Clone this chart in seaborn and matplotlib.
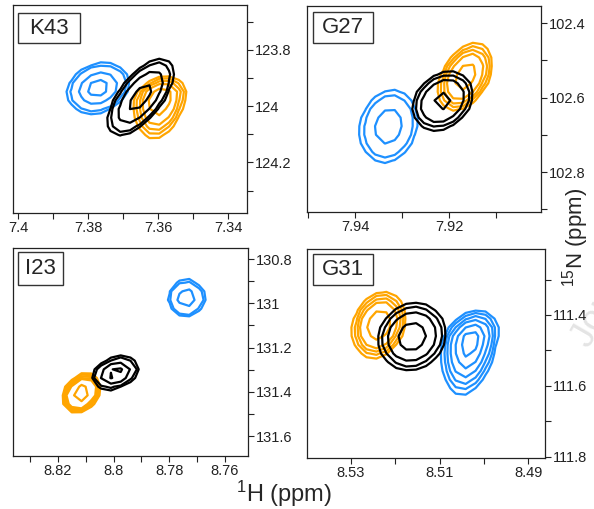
import numpy as np
import matplotlib
matplotlib.use("Agg")
import matplotlib.pyplot as plt
from matplotlib.patches import Rectangle
import seaborn as sns

sns.set_style("ticks")
plt.rcParams["font.family"] = ["Liberation Sans", "DejaVu Sans"]
plt.rcParams["mathtext.fontset"] = "custom"
plt.rcParams["mathtext.rm"] = "Liberation Sans"
plt.rcParams["mathtext.default"] = "regular"

# ---------------- data ----------------
PANEL_NAMES = ["K43", "G27", "I23", "G31"]

XLIMS = [(7.4014, 7.3346), (7.9502, 7.9005), (8.8362, 8.7517), (8.5399, 8.4862)]
YLIMS = [(124.38, 123.64), (102.907, 102.354), (131.69, 130.75), (111.803, 111.214)]

XTICKS = [[7.40, 7.39, 7.38, 7.37, 7.36, 7.35, 7.34],
          [7.95, 7.94, 7.93, 7.92, 7.91],
          [8.83, 8.82, 8.81, 8.80, 8.79, 8.78, 8.77, 8.76],
          [8.53, 8.52, 8.51, 8.50, 8.49]]
XTICKLABELS = [["7.4", "", "7.38", "", "7.36", "", "7.34"],
               ["", "7.94", "", "7.92", ""],
               ["", "8.82", "", "8.8", "", "8.78", "", "8.76"],
               ["8.53", "", "8.51", "", "8.49"]]
YTICKS = [[123.7, 123.8, 123.9, 124.0, 124.1, 124.2, 124.3],
          [102.4, 102.5, 102.6, 102.7, 102.8, 102.9],
          [130.8, 130.9, 131.0, 131.1, 131.2, 131.3, 131.4, 131.5, 131.6],
          [111.3, 111.4, 111.5, 111.6, 111.7, 111.8]]
YTICKLABELS = [["", "123.8", "", "124", "", "124.2", ""],
               ["102.4", "", "102.6", "", "102.8", ""],
               ["130.8", "", "131", "", "131.2", "", "131.4", "", "131.6"],
               ["", "111.4", "", "111.6", "", "111.8"]]

# spectra order within each panel: orange, blue, black
SPECTRUM_COLORS = ["#FFA500", "#1E90FF", "#000000"]

PEAK_H = [[7.3594, 7.3771, 7.3650],
          [7.9166, 7.9329, 7.9214],
          [8.8116, 8.7739, 8.7994],
          [8.5237, 8.5031, 8.5162]]
PEAK_N = [[123.968, 123.936, 123.968],
          [102.544, 102.677, 102.609],
          [131.407, 130.976, 131.315],
          [111.428, 111.470, 111.461]]
HALF_H = [[0.0072, 0.0087, 0.0093],
          [0.0056, 0.0060, 0.0063],
          [0.0066, 0.0063, 0.0081],
          [0.0059, 0.0063, 0.0075]]
HALF_N_UP = [[0.071, 0.089, 0.136],
             [0.090, 0.097, 0.078],
             [0.088, 0.081, 0.072],
             [0.093, 0.082, 0.094]]
HALF_N_DOWN = [[0.146, 0.089, 0.136],
               [0.090, 0.097, 0.078],
               [0.088, 0.081, 0.072],
               [0.093, 0.155, 0.094]]
TILT = [[0.25, 0.2, 0.65],
        [0.4, 0.15, 0.25],
        [0.3, 0.0, 0.3],
        [0.2, 0.3, 0.1]]
CONTOUR_RADII = [
    [[1.0, 0.9, 0.8, 0.68, 0.45], [1.0, 0.9, 0.62, 0.35], [1.0, 0.9, 0.68, 0.35]],
    [[1.0, 0.9, 0.8, 0.68, 0.4], [1.0, 0.85, 0.48], [1.0, 0.88, 0.72, 0.3]],
    [[1.0, 0.94, 0.88, 0.82, 0.76, 0.45], [1.0, 0.9, 0.5, 0.1], [1.0, 0.9, 0.65, 0.35]],
    [[1.0, 0.9, 0.8, 0.7, 0.45], [1.0, 0.9, 0.8, 0.68, 0.52, 0.32], [1.0, 0.88, 0.72, 0.42]],
]

# ---------------- layout (pixels) ----------------
W, H = 594, 509
AX_BOX = [(13, 5, 247, 213), (307, 6, 541, 212), (13, 248, 248, 456), (307, 249, 545, 458)]
LABEL_BOX = [(18, 13, 62, 30), (313, 12, 60, 31), (18, 252, 45, 33), (313, 254, 60, 31)]
R_OUT = 2.0
GRID_N = 25


def peak_surface(X, Y, x0, y0, hx, hup, hdn, rho):
    sx = hx / R_OUT
    sy = np.where(Y < y0, hup, hdn) / R_OUT
    u = (X - x0) / sx
    v = (Y - y0) / sy
    q = (u * u - 2 * rho * u * v + v * v) / (1 - rho * rho)
    return np.exp(-0.5 * q)


fig = plt.figure(figsize=(W / 100, H / 100), dpi=100)

for p in range(4):
    l, t, r, b = AX_BOX[p]
    ax = fig.add_axes([l / W, 1 - b / H, (r - l) / W, (b - t) / H])
    xs = np.linspace(min(XLIMS[p]), max(XLIMS[p]), GRID_N)
    ys = np.linspace(min(YLIMS[p]), max(YLIMS[p]), GRID_N)
    X, Y = np.meshgrid(xs, ys)
    for s in range(3):
        Z = peak_surface(X, Y, PEAK_H[p][s], PEAK_N[p][s], HALF_H[p][s],
                         HALF_N_UP[p][s], HALF_N_DOWN[p][s], TILT[p][s])
        levels = sorted(np.exp(-0.5 * (R_OUT * np.array(CONTOUR_RADII[p][s])) ** 2))
        ax.contour(X, Y, Z, levels=levels, colors=SPECTRUM_COLORS[s],
                   linewidths=1.6, zorder=2 + s)
    ax.set_xlim(*XLIMS[p])
    ax.set_ylim(*YLIMS[p])
    ax.set_xticks(XTICKS[p], XTICKLABELS[p])
    ax.set_yticks(YTICKS[p], YTICKLABELS[p])
    ax.yaxis.tick_right()
    ax.tick_params(axis="both", direction="out", length=4, width=0.8,
                   labelsize=10.5, pad=2, colors="#222222")
    for sp in ax.spines.values():
        sp.set_visible(True)
        sp.set_linewidth(0.9)
        sp.set_color("#222222")

    bl, bt, bw, bh = LABEL_BOX[p]
    fig.add_artist(Rectangle((bl / W, 1 - (bt + bh) / H), bw / W, bh / H,
                             transform=fig.transFigure, fill=True, fc="white",
                             ec="#333333", lw=1.0, zorder=5))
    fig.text((bl + bw / 2) / W, 1 - (bt + bh / 2) / H, PANEL_NAMES[p],
             ha="center", va="center", fontsize=16, zorder=6)

fig.text(284 / W, 1 - 494 / H, "$^{1}$H (ppm)", ha="center", va="center", fontsize=17)
fig.text(576 / W, 1 - 237 / H, "$^{15}$N (ppm)", ha="center", va="center",
         fontsize=16, rotation=90)
fig.text(566 / W, 1 - 345 / H, "Journal Pre-proof", ha="left", va="baseline",
         fontsize=26, rotation=60, color="#e4e4e4", zorder=-5)

fig.savefig("out.png", dpi=100)
